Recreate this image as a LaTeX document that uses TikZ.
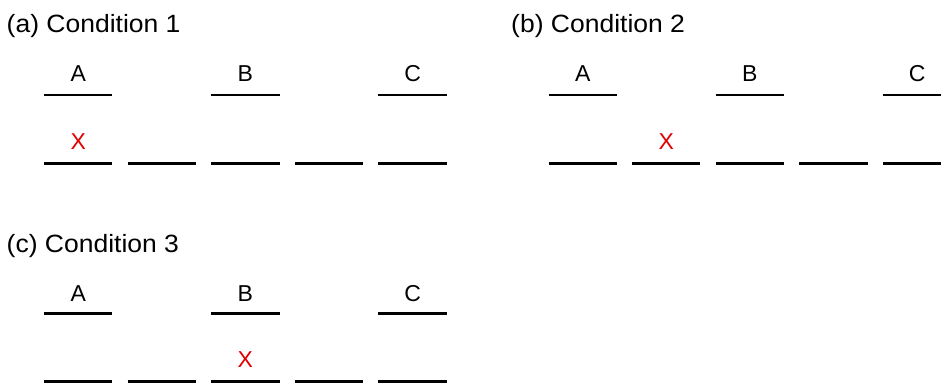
\documentclass[tikz,border=0pt]{standalone}
\usepackage{fontspec}
\setmainfont{Liberation Sans}
\newfontfamily\titlefont[FakeStretch=1.06]{Liberation Sans}
\definecolor{xred}{RGB}{225,0,0}
\begin{document}
\begin{tikzpicture}[x=1pt,y=-1pt,
  level/.style={line width=2.6pt},
  title/.style={anchor=base west,inner sep=0pt,font=\titlefont\fontsize{25}{29}\selectfont},
  lab/.style={anchor=base,inner sep=0pt,font=\fontsize{23}{27}\selectfont},
  mark x/.style={anchor=base,inner sep=0pt,text=xred,font=\fontsize{23}{27}\selectfont}]
\useasboundingbox (0,0) rectangle (941,383);
\clip (0,0) rectangle (941,383);
% panels: name/xoff/yoff/label-yoff/x-col/title
\foreach \p/\dx/\dy/\ly/\xc/\t in {a/0/0/0/0/{(a) Condition 1},b/504.5/0/0/1/{(b) Condition 2},c/0/218.3/220/2/{(c) Condition 3}}{
  \node[title] (t\p) at (6.5+\dx,32+\ly) {\t};
  \foreach \n/\i in {A/0,B/2,C/4}{
    \draw[level] (44+83.6*\i+\dx,95+\dy) -- ++(68.3,0);
    \node[lab] (\p\n) at (78.2+83.6*\i+\dx,81+\ly) {\n};
  }
  \foreach \i in {0,...,4}{
    \draw[level] (44+83.6*\i+\dx,163.4+\dy) -- ++(68.3,0);
  }
  \node[mark x] (\p X) at (78.2+83.6*\xc+\dx,149+\dy) {X};
}
\end{tikzpicture}
\end{document}
